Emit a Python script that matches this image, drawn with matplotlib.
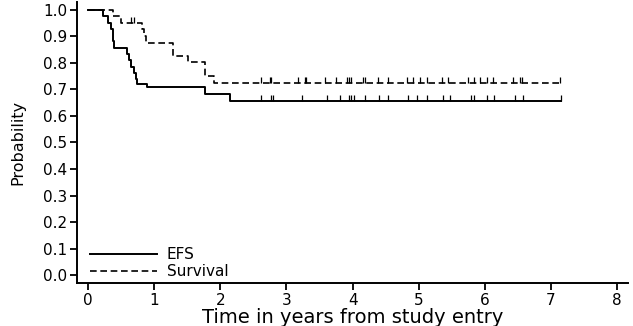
import numpy as np
import matplotlib
matplotlib.use("Agg")
import matplotlib.pyplot as plt

# EFS step function (time in years, probability)
efs_t = [0, 0.22, 0.30, 0.35, 0.37, 0.38, 0.39, 0.58, 0.62, 0.65, 0.69, 0.72, 0.74, 0.89, 1.76, 2.15, 7.15]
efs_s = [1.0, 0.976, 0.952, 0.929, 0.905, 0.881, 0.857, 0.833, 0.810, 0.786, 0.762, 0.738, 0.722, 0.710, 0.684, 0.658, 0.658]
efs_cens = [2.61, 2.76, 2.79, 3.23, 3.62, 3.81, 3.95, 3.98, 4.02, 4.19, 4.40, 4.54, 4.84,
            4.98, 5.12, 5.36, 5.48, 5.79, 5.84, 6.03, 6.14, 6.46, 6.58, 7.15]

# Overall survival step function
surv_t = [0, 0.37, 0.50, 0.81, 0.84, 0.87, 1.29, 1.51, 1.77, 1.91, 7.13]
surv_s = [1.0, 0.976, 0.952, 0.927, 0.902, 0.877, 0.828, 0.803, 0.752, 0.726, 0.726]
surv_cens = [0.65, 0.69, 2.61, 2.75, 2.77, 3.17, 3.28, 3.30, 3.58, 3.75, 3.91, 3.95, 3.98,
             4.16, 4.19, 4.39, 4.54, 4.82, 4.92, 5.02, 5.12, 5.35, 5.45, 5.75, 5.84, 5.93,
             6.03, 6.13, 6.43, 6.53, 6.56, 7.13]

xticks = [0, 1, 2, 3, 4, 5, 6, 7, 8]
yticks = [0.0, 0.1, 0.2, 0.3, 0.4, 0.5, 0.6, 0.7, 0.8, 0.9, 1.0]

plt.rcParams['font.family'] = ['DejaVu Sans']

fig = plt.figure(figsize=(6.33, 3.26), dpi=100)
ax = fig.add_axes([0.121, 0.131, 0.871, 0.863])

def step_at(t, s, c):
    t = np.asarray(t); s = np.asarray(s); c = np.asarray(c)
    idx = np.searchsorted(t, c, side='right') - 1
    return s[idx]

ax.step(efs_t, efs_s, where='post', color='black', lw=1.4, label='EFS')
ax.step(surv_t, surv_s, where='post', color='black', lw=1.2,
        linestyle=(0, (4, 2.2)), label='Survival')

tick_h = 0.02
ye = step_at(efs_t, efs_s, efs_cens)
ax.vlines(efs_cens, ye, ye + tick_h, color='black', lw=0.9)
ys = step_at(surv_t, surv_s, surv_cens)
ax.vlines(surv_cens, ys, ys + tick_h, color='black', lw=0.9)

ax.set_xlim(-0.175, 8.165)
ax.set_ylim(-0.031, 1.030)
ax.set_xticks(xticks)
ax.set_yticks(yticks)
ax.set_xticklabels([str(x) for x in xticks])
ax.set_yticklabels([f"{y:.1f}" for y in yticks])

for side in ['top', 'right']:
    ax.spines[side].set_visible(False)
for side in ['left', 'bottom']:
    ax.spines[side].set_linewidth(1.4)

ax.tick_params(axis='both', direction='out', length=5, width=1.3, labelsize=11, colors='black')
ax.tick_params(axis='y', pad=1.5)
ax.tick_params(axis='x', pad=2)

ax.set_xlabel('Time in years from study entry', fontsize=14, labelpad=0)
ax.set_ylabel('Probability', fontsize=11.5, labelpad=13)

leg = ax.legend(loc='lower left', bbox_to_anchor=(0.024, 0.015), frameon=False,
                fontsize=11, handlelength=4.4, handletextpad=0.65,
                labelspacing=0.12, borderpad=0.0, borderaxespad=0.0)

fig.savefig('out.png', dpi=100)
